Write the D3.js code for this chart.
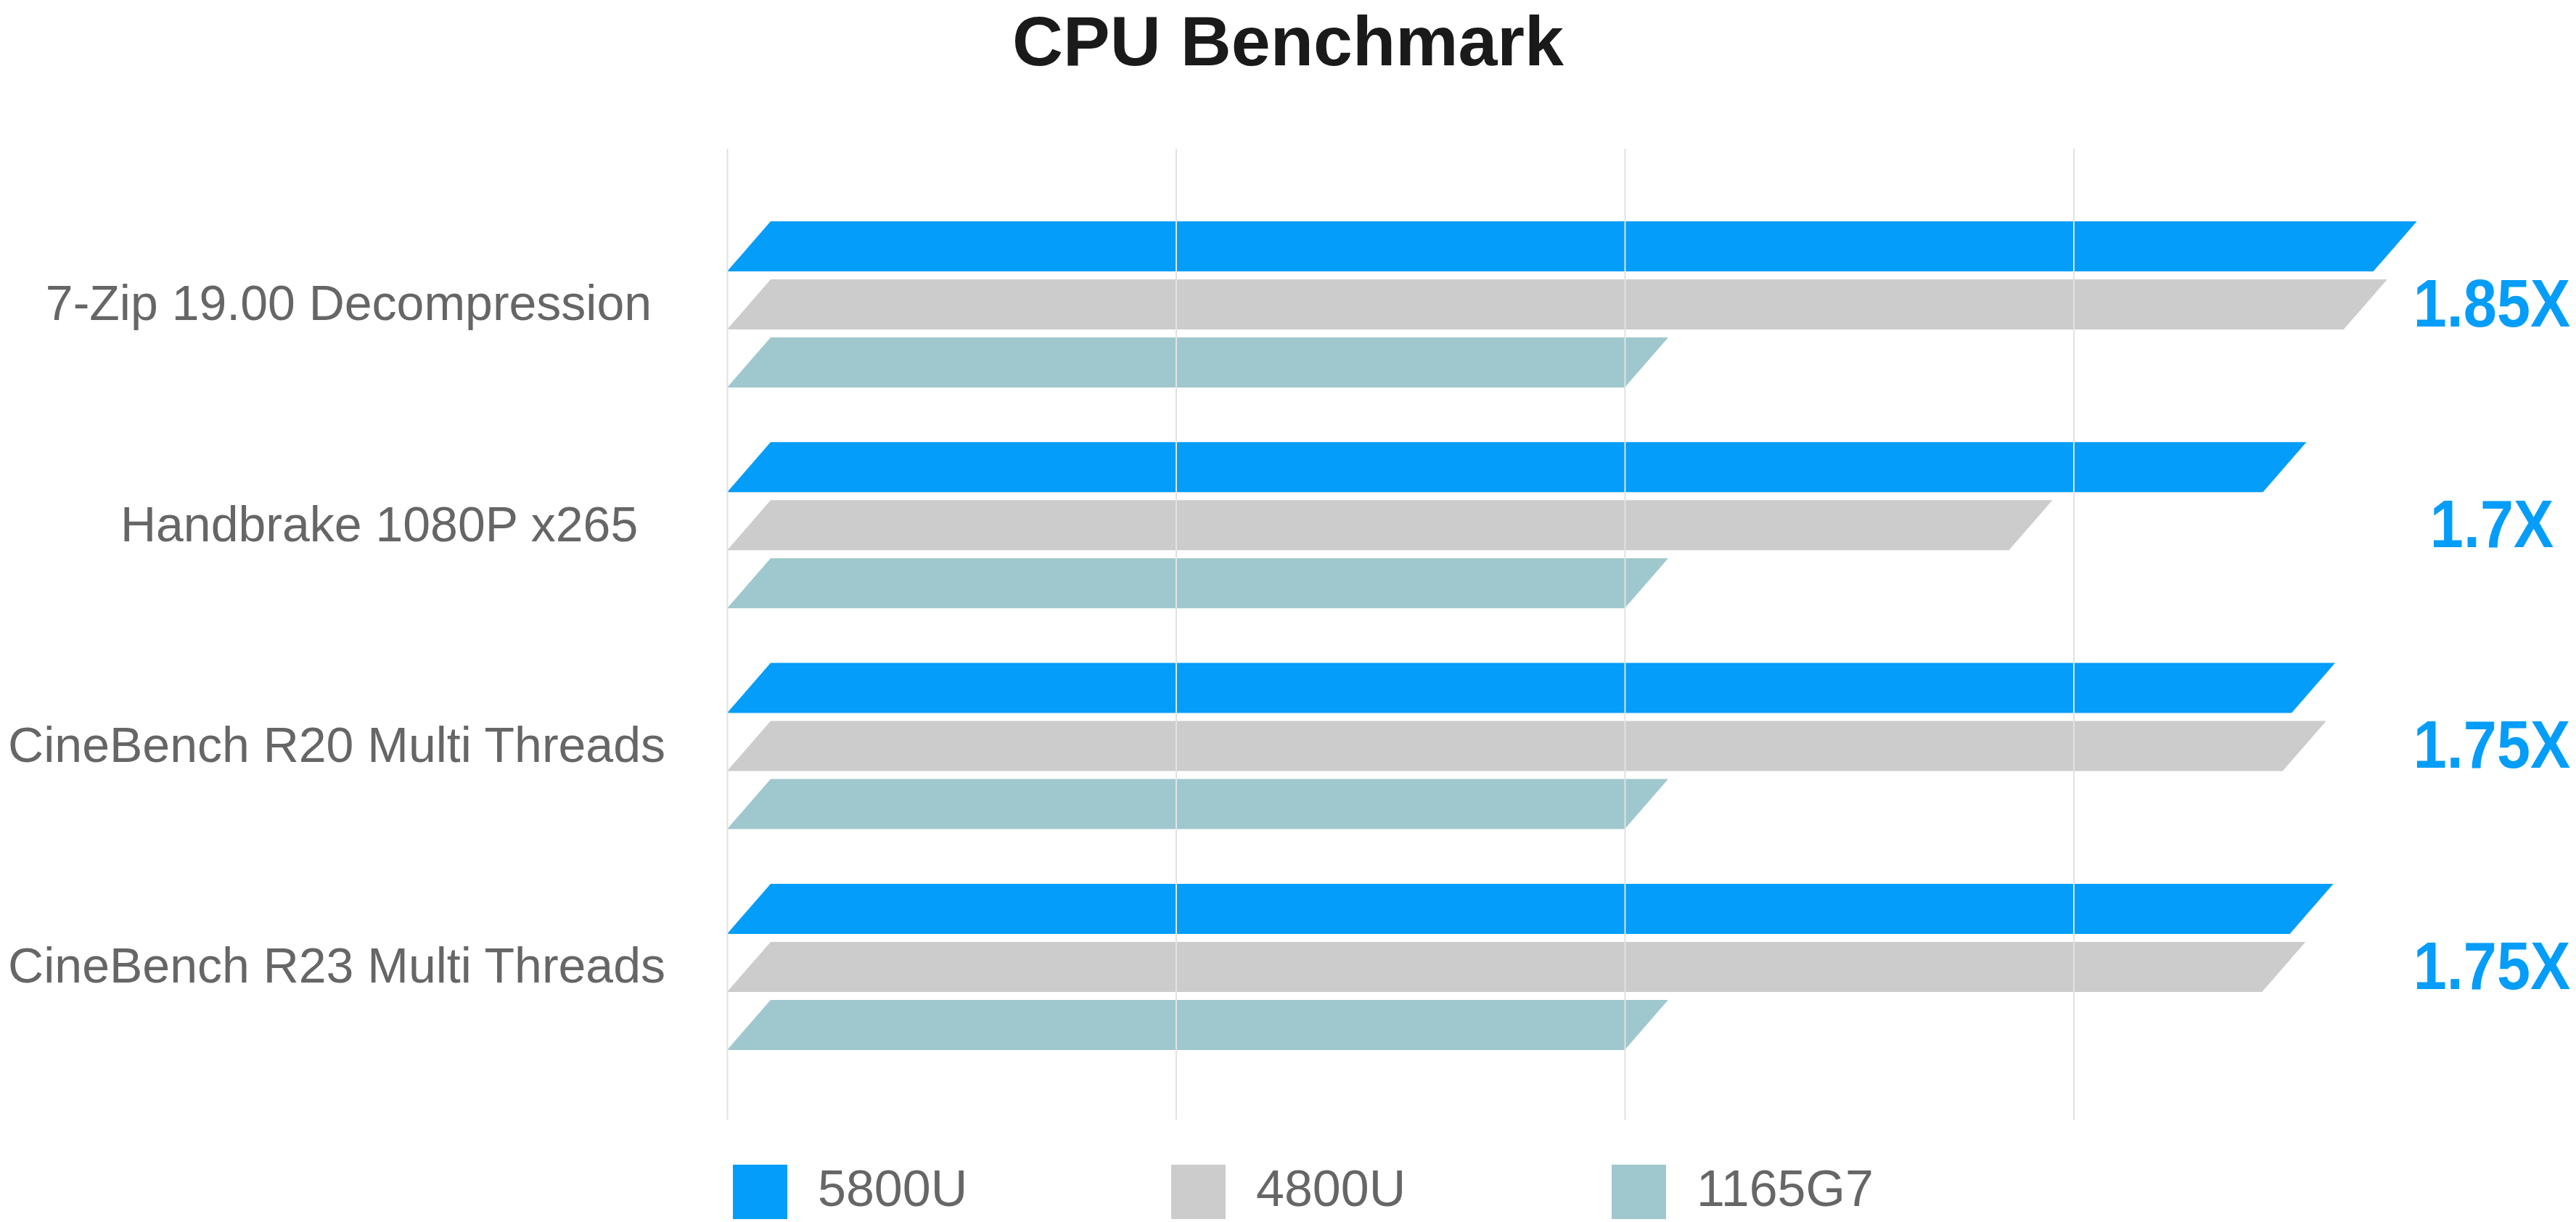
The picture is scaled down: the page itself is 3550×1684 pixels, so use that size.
<!DOCTYPE html>
<html>
<head>
<meta charset="utf-8">
<script src="https://cdn.jsdelivr.net/npm/d3@7"></script>
<style>
  html, body { margin: 0; padding: 0; background: #ffffff; }
  svg text { font-family: "Liberation Sans", Arial, Helvetica, sans-serif; white-space: pre; }
</style>
</head>
<body>
<svg id="chart" width="3550" height="1684"></svg>
<script>
// ---- data ----
const title = "CPU Benchmark";
const categories = [
  "7-Zip 19.00 Decompression ",
  "Handbrake 1080P x265  ",
  "CineBench R20 Multi Threads",
  "CineBench R23 Multi Threads"
];
const seriesNames = ["5800U", "4800U", "1165G7"];
const values5800U  = [1.834, 1.711, 1.743, 1.741];
const values4800U  = [1.801, 1.428, 1.733, 1.710];
const values1165G7 = [1.0, 1.0, 1.0, 1.0];
const speedupLabels = ["1.85X", "1.7X", "1.75X", "1.75X"];
const gridTicks = [0, 0.5, 1, 1.5];
const colors = ["#049DF9", "#CCCCCC", "#9FC8CE"];

const seriesValues = [values5800U, values4800U, values1165G7];

// ---- layout ----
const svg = d3.select("#chart");
const W = 3550, H = 1684;
const slant = 60;

const x = d3.scaleLinear().domain([0, 1]).range([1002, 2239]);
const yGroup = d3.scaleBand().domain(categories).range([305, 305 + 4 * 304.3]).padding(0);
const ySeries = d3.scaleBand().domain(seriesNames).range([0, 229]).paddingInner(0.1375).paddingOuter(0);
const color = d3.scaleOrdinal().domain(seriesNames).range(colors);

// title
svg.append("text")
  .attr("x", W / 2).attr("y", 90)
  .attr("text-anchor", "middle")
  .attr("font-size", 97).attr("font-weight", "bold")
  .attr("fill", "#1a1a1a")
  .text(title);

// bars
const rows = [];
categories.forEach((c, i) => {
  seriesNames.forEach((s, j) => {
    rows.push({ cat: c, series: s, value: seriesValues[j][i] });
  });
});

const barG = svg.append("g");
barG.selectAll("path.bar").data(rows).enter().append("path")
  .attr("class", "bar")
  .attr("fill", d => color(d.series))
  .attr("d", d => {
    const yt = yGroup(d.cat) + ySeries(d.series);
    const yb = yt + ySeries.bandwidth();
    const x0 = x(0), x1 = x(d.value);
    return `M${x0},${yb}L${x1},${yb}L${x1 + slant},${yt}L${x0 + slant},${yt}Z`;
  });

// gridlines (drawn over bars, as in the reference)
const gridTop = 205, gridBottom = 1543;
const gridAxis = d3.axisBottom(x).tickValues(gridTicks).tickSize(gridBottom - gridTop).tickFormat("");
const gg = svg.append("g").attr("transform", `translate(0,${gridTop})`).call(gridAxis);
gg.select(".domain").remove();
gg.selectAll(".tick line").attr("stroke", "#e2e2e2").attr("stroke-width", 2);

// category labels
const midSeries = seriesNames[1];
svg.append("g").selectAll("text").data(categories).enter().append("text")
  .attr("x", 917)
  .attr("y", d => yGroup(d) + ySeries(midSeries) + ySeries.bandwidth() / 2 - 2)
  .attr("dy", "0.35em")
  .attr("text-anchor", "end")
  .attr("font-size", 68)
  .attr("fill", "#666666")
  .text(d => d);

// speedup labels
svg.append("g").selectAll("text").data(categories).enter().append("text")
  .attr("transform", (d) => {
    const cy = yGroup(d) + ySeries(midSeries) + ySeries.bandwidth() / 2 - 3;
    return `translate(3434,${cy}) scale(0.9,1)`;
  })
  .attr("dy", "0.36em")
  .attr("text-anchor", "middle")
  .attr("font-size", 92).attr("font-weight", "bold")
  .attr("fill", colors[0])
  .text((d, i) => speedupLabels[i]);

// legend
const legendX = d3.scaleOrdinal().domain(seriesNames).range([1010, 1614, 2221]);
const lg = svg.append("g").selectAll("g").data(seriesNames).enter().append("g")
  .attr("transform", d => `translate(${legendX(d)},1605)`);
lg.append("rect").attr("width", 75).attr("height", 75).attr("fill", d => color(d));
lg.append("text").attr("x", 117).attr("y", 57)
  .attr("font-size", 70).attr("fill", "#666666")
  .text(d => d);
</script>
</body>
</html>
